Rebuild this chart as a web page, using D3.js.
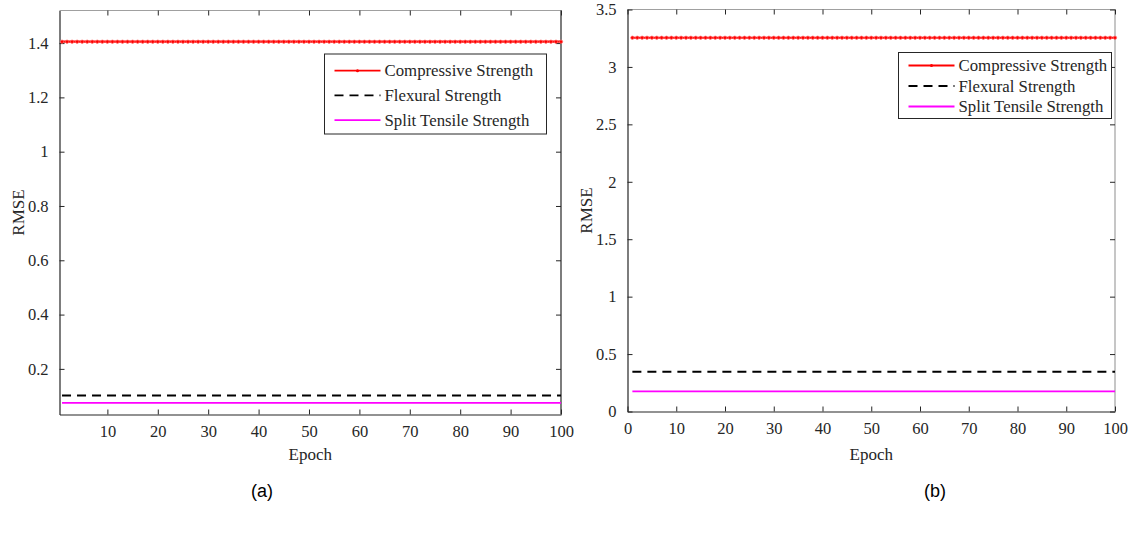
<!DOCTYPE html>
<html>
<head>
<meta charset="utf-8">
<script src="https://cdn.jsdelivr.net/npm/d3@7"></script>
<style>
  body { margin: 0; background: #fff; }
  svg text { font-family: "Liberation Serif", "Times New Roman", serif; fill: #262626; }
  svg text.cap { font-family: "Liberation Sans", Arial, sans-serif; fill: #000; }
</style>
</head>
<body>
<script>
// values (flat over all epochs)
var seriesNames = ["Compressive Strength", "Flexural Strength", "Split Tensile Strength"];
var seriesColors = ["#ff0000", "#000000", "#ff00ff"];
var epochs = d3.range(1, 101);
var rmseA = [1.405, 0.102, 0.075];
var rmseB = [3.254, 0.346, 0.175];
var yTicksA = [0.2, 0.4, 0.6, 0.8, 1, 1.2, 1.4];
var yTicksB = [0, 0.5, 1, 1.5, 2, 2.5, 3, 3.5];
var xTicksA = [10, 20, 30, 40, 50, 60, 70, 80, 90, 100];
var xTicksB = [0, 10, 20, 30, 40, 50, 60, 70, 80, 90, 100];

var W = 1133, H = 533;
var svg = d3.select("body").append("svg").attr("width", W).attr("height", H);

var panels = [
  {left: 59.5, right: 561, top: 10.5, bottom: 414.5, xdom: [0.5, 100], ydom: [0.032, 1.52],
   xt: xTicksA, yt: yTicksA, vals: rmseA, rightColor: "#262626",
   legend: {x: 324.5, y: 54, w: 222, h: 80, row: 24.7, first: 16.7}, cap: "(a)", capX: 262},
  {left: 627.5, right: 1115, top: 9.5, bottom: 411.5, xdom: [0, 100], ydom: [0, 3.5],
   xt: xTicksB, yt: yTicksB, vals: rmseB, rightColor: "#a0a0a0",
   legend: {x: 898.5, y: 52.5, w: 213, h: 66, row: 20.5, first: 13}, cap: "(b)", capX: 935}
];

var draw_panel = function(p) {
  var x = d3.scaleLinear().domain(p.xdom).range([p.left, p.right]);
  var y = d3.scaleLinear().domain(p.ydom).range([p.bottom, p.top]);
  var g = svg.append("g");

  // box edges
  g.append("line").attr("x1", p.left).attr("x2", p.right).attr("y1", p.top).attr("y2", p.top)
    .attr("stroke", "#a0a0a0").attr("stroke-width", 1.2);
  g.append("line").attr("x1", p.right).attr("x2", p.right).attr("y1", p.top).attr("y2", p.bottom)
    .attr("stroke", p.rightColor).attr("stroke-width", 1.2);

  // mirrored ticks on top / right
  g.append("g").attr("transform", "translate(0," + p.top + ")")
    .call(d3.axisTop(x).tickValues(p.xt).tickSize(-5).tickFormat(""))
    .call(function(s) { s.select(".domain").remove(); s.selectAll("line").attr("stroke", "#262626"); });
  g.append("g").attr("transform", "translate(" + p.right + ",0)")
    .call(d3.axisRight(y).tickValues(p.yt).tickSize(-5).tickFormat(""))
    .call(function(s) { s.select(".domain").remove(); s.selectAll("line").attr("stroke", "#262626"); });

  // bottom + left axes
  var fmt = function(d) { return String(d); };
  var xa = g.append("g").attr("transform", "translate(0," + p.bottom + ")")
    .call(d3.axisBottom(x).tickValues(p.xt).tickSize(-5).tickSizeOuter(0).tickPadding(11).tickFormat(fmt));
  var ya = g.append("g").attr("transform", "translate(" + p.left + ",0)")
    .call(d3.axisLeft(y).tickValues(p.yt).tickSize(-5).tickSizeOuter(0).tickPadding(11).tickFormat(fmt));
  [xa, ya].forEach(function(a) {
    a.attr("font-family", null).attr("font-size", null);
    a.select(".domain").attr("stroke", "#262626").attr("stroke-width", 1.2);
    a.selectAll("line").attr("stroke", "#262626");
    a.selectAll("text").attr("fill", "#262626")
      .style("font-family", "'Liberation Serif', 'Times New Roman', serif")
      .style("font-size", "16.5px");
  });

  // series
  var line = d3.line().x(function(d) { return x(d[0]); }).y(function(d) { return y(d[1]); });
  var dashes = [null, "9,6", null];
  p.vals.forEach(function(v, i) {
    var pts = epochs.map(function(e) { return [e, v]; });
    g.append("path").datum(pts).attr("d", line).attr("fill", "none")
      .attr("stroke", seriesColors[i]).attr("stroke-width", i === 0 ? 2.2 : 1.8)
      .attr("stroke-dasharray", dashes[i]);
    if (i === 0) {
      g.selectAll("circle.m").data(pts).enter().append("circle")
        .attr("cx", function(d) { return x(d[0]); })
        .attr("cy", function(d) { return y(d[1]); })
        .attr("r", 1.7).attr("fill", "#ff0000").attr("stroke", "#ff7070").attr("stroke-width", 0.7);
    }
  });

  // legend
  var L = p.legend;
  var lg = g.append("g");
  lg.append("rect").attr("x", L.x).attr("y", L.y).attr("width", L.w).attr("height", L.h)
    .attr("fill", "#fff").attr("stroke", "#262626").attr("stroke-width", 1);
  seriesNames.forEach(function(n, i) {
    var yy = L.y + L.first + i * L.row;
    lg.append("line").attr("x1", L.x + 10).attr("x2", L.x + 56).attr("y1", yy).attr("y2", yy)
      .attr("stroke", seriesColors[i]).attr("stroke-width", 1.8)
      .attr("stroke-dasharray", dashes[i]);
    if (i === 0) {
      lg.append("circle").attr("cx", L.x + 33).attr("cy", yy).attr("r", 1.5).attr("fill", "#ff0000");
    }
    lg.append("text").attr("x", L.x + 60).attr("y", yy + 5.5).style("font-size", "16.8px").text(n);
  });

  // axis titles
  g.append("text").attr("transform", "translate(" + (p.left - 36) + "," + ((p.top + p.bottom) / 2) + ") rotate(-90)")
    .attr("text-anchor", "middle").style("font-size", "17px").text("RMSE");
  g.append("text").attr("x", (p.left + p.right) / 2).attr("y", 460)
    .attr("text-anchor", "middle").style("font-size", "17px").text("Epoch");
  g.append("text").attr("class", "cap").attr("x", p.capX).attr("y", 497)
    .attr("text-anchor", "middle").style("font-size", "18px").text(p.cap);
};

panels.forEach(draw_panel);
</script>
</body>
</html>
